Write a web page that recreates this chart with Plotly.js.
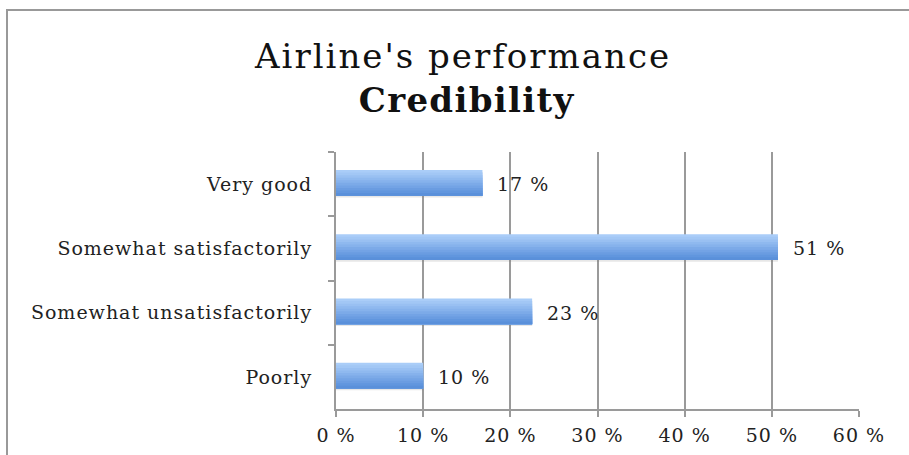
<!DOCTYPE html>
<html>
<head>
<meta charset="utf-8">
<script src="https://cdn.plot.ly/plotly-3.0.1.min.js"></script>
<style>
html,body{margin:0;padding:0;background:#fff;}
#chart{width:909px;height:455px;}
#chart .xtick text, #chart .ytick text {letter-spacing:1px;}
</style>
</head>
<body>
<div id="chart"></div>
<script>
const categories = ["Very good", "Somewhat satisfactorily", "Somewhat unsatisfactorily", "Poorly"];
const values = [16.8, 50.7, 22.5, 10.0];
const labels = ["17 %", "51 %", "23 %", "10 %"];
const tickValues = [0, 10, 20, 30, 40, 50, 60];
const tickLabels = ["0 %", "10 %", "20 %", "30 %", "40 %", "50 %", "60 %"];
const titleLine1 = "Airline's performance";
const titleLine2 = "Credibility";

const W = 909, H = 455;
const M = {l: 336, r: 50, t: 152, b: 46};
const pw = W - M.l - M.r, ph = H - M.t - M.b;
const px = v => (v - M.l) / pw;
const py = v => 1 - (v - M.t) / ph;

// gradient simulation: bands from light (top) to dark (bottom), each reaching the bar bottom
const bandColors = ["#aacdf8","#a2c7f5","#99c0f2","#8fb9ef","#86b2ec","#7caae8","#73a3e5","#6a9ce1","#6196de","#5a90da"];
const barW = 0.4;
const n = bandColors.length;
const bw = barW / n;
const shift = -0.02;
const traces = [];
traces.push({
  type: "bar", orientation: "h", y: categories, x: values,
  width: barW, offset: -barW/2 + shift + 0.03,
  marker: {color: "rgba(120,120,120,0.18)", line: {width: 0}},
  hoverinfo: "skip", showlegend: false
});
bandColors.forEach((c, i) => {
  traces.push({
    type: "bar", orientation: "h", y: categories, x: values,
    width: barW - i*bw, offset: -barW/2 + shift + i*bw,
    marker: {color: c, line: {width: 0}},
    hoverinfo: "skip", showlegend: false
  });
});

const annotations = categories.map((c, i) => ({
  x: values[i], y: c, xref: "x", yref: "y", text: labels[i],
  showarrow: false, xanchor: "left", xshift: 15,
  font: {family: "DejaVu Serif", size: 19, color: "#222"}
}));
annotations.push({
  x: 0.5, y: py(56), xref: "paper", yref: "paper", xanchor: "center", yanchor: "middle",
  xshift: px(462) * pw - 0.5 * pw,
  text: titleLine1, showarrow: false,
  font: {family: "DejaVu Serif", size: 34, color: "#111"}
});
annotations.push({
  x: 0.5, y: py(100), xref: "paper", yref: "paper", xanchor: "center", yanchor: "middle",
  xshift: px(467) * pw - 0.5 * pw,
  text: "<b>" + titleLine2 + "</b>", showarrow: false,
  font: {family: "DejaVu Serif", size: 34, color: "#111"}
});

const tickFont = {family: "DejaVu Serif", size: 19, color: "#222"};
const layout = {
  width: W, height: H,
  margin: M,
  paper_bgcolor: "#fff", plot_bgcolor: "#fff",
  barmode: "overlay",
  xaxis: {
    range: [0, 60], tickvals: tickValues, ticktext: tickLabels,
    showgrid: true, gridcolor: "#9a9a9a", gridwidth: 2,
    zeroline: false, showline: true, linecolor: "#9a9a9a", linewidth: 2,
    ticks: "outside", ticklen: 6, tickwidth: 2, tickcolor: "#9a9a9a",
    ticklabelstandoff: 2,
    tickfont: tickFont,
    fixedrange: true
  },
  yaxis: {
    type: "category", categoryorder: "array", categoryarray: categories,
    autorange: "reversed",
    showgrid: false, zeroline: false, showline: true, linecolor: "#9a9a9a", linewidth: 2,
    ticks: "outside", tickson: "boundaries", ticklen: 6, tickwidth: 2, tickcolor: "#9a9a9a",
    ticklabelstandoff: 18,
    tickfont: tickFont,
    fixedrange: true
  },
  annotations: annotations,
  shapes: [{
    type: "rect", xref: "paper", yref: "paper",
    x0: px(7), x1: px(915), y0: py(10), y1: py(470),
    line: {color: "#999", width: 2}, fillcolor: "rgba(0,0,0,0)", layer: "below"
  }]
};

Plotly.newPlot("chart", traces, layout, {displayModeBar: false, staticPlot: true}).then(gd => {
  const ann = gd.querySelectorAll(".annotation-text");
  ann.forEach((t, i) => {
    if (i < categories.length) t.style.letterSpacing = "1px";
    else if (i === categories.length) t.style.letterSpacing = "2px";
    else t.style.letterSpacing = "1.3px";
  });
});
</script>
</body>
</html>
